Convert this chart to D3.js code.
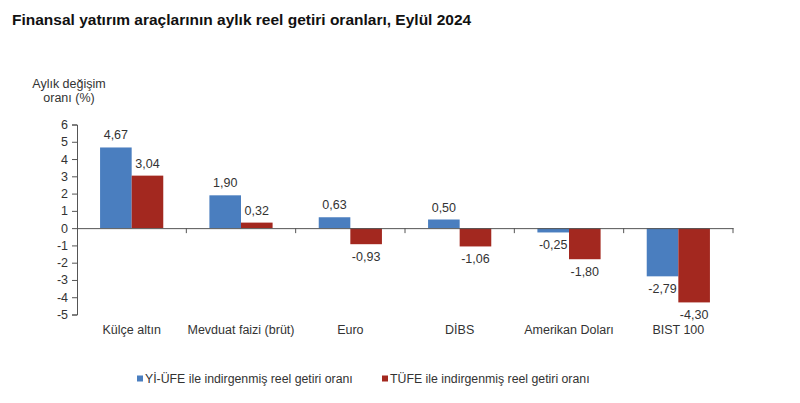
<!DOCTYPE html>
<html>
<head>
<meta charset="utf-8">
<script src="https://cdn.jsdelivr.net/npm/d3@7"></script>
<style>
  body { margin: 0; background: #fff; }
  svg text { font-family: "Liberation Sans", Arial, sans-serif; }
</style>
</head>
<body>
<svg id="chart" width="800" height="403"></svg>
<script>
const categories = ["Külçe altın", "Mevduat faizi (brüt)", "Euro", "DİBS", "Amerikan Doları", "BIST 100"];
const seriesNames = ["Yİ-ÜFE ile indirgenmiş reel getiri oranı", "TÜFE ile indirgenmiş reel getiri oranı"];
const yiUfe = [4.67, 1.90, 0.63, 0.50, -0.25, -2.79];
const tufe  = [3.04, 0.32, -0.93, -1.06, -1.80, -4.30];
const yTicks = [6, 5, 4, 3, 2, 1, 0, -1, -2, -3, -4, -5];
const colors = ["#4a7ebf", "#a3281f"];

const svg = d3.select("#chart");
const fmt = v => v.toFixed(2).replace(".", ",");

const x = d3.scaleBand().domain(categories).range([77, 733]).paddingInner(0).paddingOuter(0);
const xs = d3.scaleBand().domain([0, 1]).range([0, x.bandwidth()]).paddingInner(0).paddingOuter(0.73);
const y = d3.scaleLinear().domain([-5, 6]).range([314.5, 124.5]);

// title
svg.append("text")
    .attr("x", 12).attr("y", 25)
    .attr("font-size", 15.5).attr("font-weight", "bold")
    .attr("fill", "#111")
    .text("Finansal yatırım araçlarının aylık reel getiri oranları, Eylül 2024");

// y axis title
const yt = svg.append("text").attr("font-size", 12.5).attr("fill", "#333").attr("text-anchor", "middle");
yt.append("tspan").attr("x", 69).attr("y", 88).text("Aylık değişim");
yt.append("tspan").attr("x", 69).attr("y", 102).text("oranı (%)");

// bars
const data = categories.map((c, i) => ({ c, vals: [yiUfe[i], tufe[i]] }));
const groups = svg.append("g").selectAll("g")
    .data(data).enter().append("g")
    .attr("transform", d => `translate(${x(d.c)},0)`);

groups.selectAll("rect")
    .data(d => d.vals.map((v, k) => ({ v, k })))
    .enter().append("rect")
    .attr("x", d => xs(d.k))
    .attr("width", xs.bandwidth())
    .attr("y", d => y(Math.max(0, d.v)))
    .attr("height", d => Math.abs(y(d.v) - y(0)))
    .attr("fill", d => colors[d.k]);

groups.selectAll("text")
    .data(d => d.vals.map((v, k) => ({ v, k })))
    .enter().append("text")
    .attr("x", d => xs(d.k) + xs.bandwidth() / 2)
    .attr("y", d => d.v >= 0 ? y(d.v) - 8 : y(d.v) + 17)
    .attr("text-anchor", "middle")
    .attr("font-size", 12.5)
    .attr("fill", "#333")
    .text(d => fmt(d.v));

// y axis
const yAxis = svg.append("g")
    .attr("transform", "translate(77,0)")
    .call(d3.axisLeft(y).tickValues(yTicks).tickSize(5).tickPadding(4).tickFormat(d => String(d)));
yAxis.select(".domain").attr("stroke", "#555");
yAxis.selectAll(".tick line").attr("stroke", "#555");
yAxis.selectAll(".tick text").attr("font-size", 12.5).attr("fill", "#333")
    .attr("font-family", "Liberation Sans, Arial, sans-serif");

// zero line with category ticks
const xAxis = svg.append("g")
    .attr("transform", `translate(0,${y(0)})`)
    .call(d3.axisBottom(x).tickSize(0).tickFormat(""));
xAxis.select(".domain").attr("stroke", "#555");
xAxis.selectAll(".tick").remove();
const bounds = categories.map(c => x(c)).concat([x.range()[1]]).slice(1);
xAxis.selectAll("line.sep").data(bounds).enter().append("line")
    .attr("x1", d => d).attr("x2", d => d).attr("y1", 0).attr("y2", 5)
    .attr("stroke", "#555");

// category labels
svg.append("g").selectAll("text")
    .data(categories).enter().append("text")
    .attr("x", d => x(d) + x.bandwidth() / 2)
    .attr("y", 334)
    .attr("text-anchor", "middle")
    .attr("font-size", 12.5)
    .attr("fill", "#333")
    .text(d => d);

// legend
const legendX = [137, 382];
const lg = svg.append("g").selectAll("g")
    .data(seriesNames).enter().append("g")
    .attr("transform", (d, i) => `translate(${legendX[i]},379)`);
lg.append("rect").attr("x", 0).attr("y", -3.5).attr("width", 6).attr("height", 6)
    .attr("fill", (d, i) => colors[i]);
lg.append("text").attr("x", 8).attr("y", 4)
    .attr("font-size", 12.3).attr("fill", "#333")
    .text(d => d);
</script>
</body>
</html>
